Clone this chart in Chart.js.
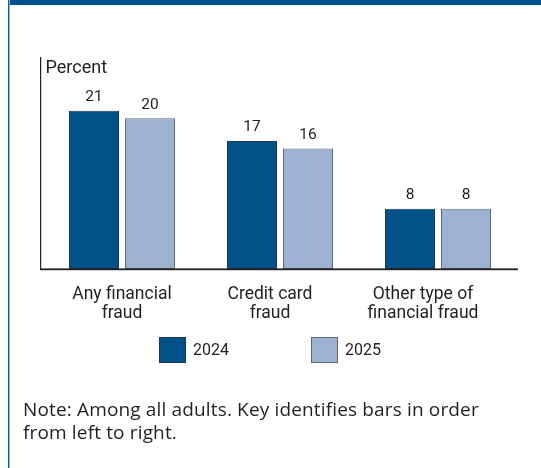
<!DOCTYPE html>
<html>
<head>
<meta charset="utf-8">
<title>Financial fraud</title>
<script src="https://cdn.jsdelivr.net/npm/chart.js@4.4.1/dist/chart.umd.min.js"></script>
<style>
  html, body { margin: 0; padding: 0; background: #fff; }
  #frame { position: relative; width: 541px; height: 468px; overflow: hidden; font-family: Roboto, sans-serif; color: #231f20; }
  #topbar { position: absolute; left: 8px; top: 0; width: 533px; height: 5px; background: #00538a; }
  #leftbar { position: absolute; left: 8px; top: 0; width: 1px; height: 468px; background: #0b5c98; border-right: 1px solid #8cb5d9; }
  #wrap { position: absolute; left: 0; top: 0; width: 541px; height: 468px; }
  #note { position: absolute; left: 23px; top: 398px; font-family: "Open Sans", sans-serif; font-size: 19px; letter-spacing: 0.15px; line-height: 23px; }
</style>
</head>
<body>
<div id="frame">
  <div id="wrap"><canvas id="fraud_chart"></canvas></div>
  <div id="topbar"></div>
  <div id="leftbar"></div>
  <div id="note">Note: Among all adults. Key identifies bars in order<br>from left to right.</div>
</div>
<script>
// categories (one array per label line) and the two survey years
var categories = [
  ["Any financial", "fraud"],
  ["Credit card", "fraud"],
  ["Other type of", "financial fraud"]
];
var years = ["2024", "2025"];
var values2024 = [21, 17, 8];
var values2025 = [20, 16, 8];

var textColor = "#231f20";
var labelShift = [0, -10, -15];   // category labels sit a bit left of their bars
var legendLeft = [159, 311];      // left edge of each key box

// axis lines, value labels, category labels, key
var decor = {
  id: "decor",
  afterDatasetsDraw: function(chart) {
    var ctx = chart.ctx;
    var area = chart.chartArea;
    var x = chart.scales.x;
    ctx.save();

    // axes
    ctx.fillStyle = textColor;
    ctx.fillRect(area.left - 3, area.top - 1, 1.2, area.bottom - area.top + 1);
    ctx.fillRect(area.left - 3, area.bottom - 0.6, area.right - area.left + 4, 1.8);

    // "Percent" over the axis
    ctx.font = "18px Roboto";
    ctx.textAlign = "left";
    ctx.textBaseline = "alphabetic";
    ctx.fillText("Percent", area.left + 2.5, area.top + 15);

    // values over each bar
    ctx.font = "15.5px Roboto";
    ctx.textAlign = "center";
    chart.data.datasets.forEach(function(ds, d) {
      chart.getDatasetMeta(d).data.forEach(function(bar, i) {
        ctx.fillText(String(ds.data[i]), bar.x, bar.y - 9.5);
      });
    });

    // category labels under the baseline
    ctx.font = "17.5px Roboto";
    categories.forEach(function(lines, i) {
      var cx = x.getPixelForValue(i) + labelShift[i];
      lines.forEach(function(line, j) {
        ctx.fillText(line, cx, area.bottom + 29.5 + j * 19);
      });
    });

    // key
    ctx.font = "16px Roboto";
    ctx.textAlign = "left";
    ctx.textBaseline = "middle";
    chart.data.datasets.forEach(function(ds, d) {
      var bx = legendLeft[d], by = 337;
      ctx.fillStyle = ds.borderColor;
      ctx.fillRect(bx, by, 27, 26);
      ctx.fillStyle = ds.backgroundColor;
      ctx.fillRect(bx + 1, by + 1, 25, 24);
      ctx.fillStyle = textColor;
      ctx.fillText(ds.label, bx + 34, by + 13.5);
    });

    ctx.restore();
  }
};

new Chart(document.getElementById("fraud_chart"), {
  type: "bar",
  data: {
    labels: categories,
    datasets: [{
      label: years[0],
      data: values2024,
      backgroundColor: "#005288",
      borderColor: "#1d3650",
      borderWidth: 1,
      borderSkipped: false
    }, {
      label: years[1],
      data: values2025,
      backgroundColor: "#9db2d1",
      borderColor: "#5f6670",
      borderWidth: 1,
      borderSkipped: false
    }]
  },
  options: {
    responsive: true,
    maintainAspectRatio: false,
    animation: false,
    events: [],
    categoryPercentage: 112 / 158,
    barPercentage: 50 / 56,
    layout: { padding: { left: 43, right: 24, top: 58, bottom: 199 } },
    scales: {
      x: { display: false },
      y: { display: false, min: 0, max: 28 }
    },
    plugins: {
      legend: { display: false },
      tooltip: { enabled: false }
    }
  },
  plugins: [decor]
});
</script>
</body>
</html>
